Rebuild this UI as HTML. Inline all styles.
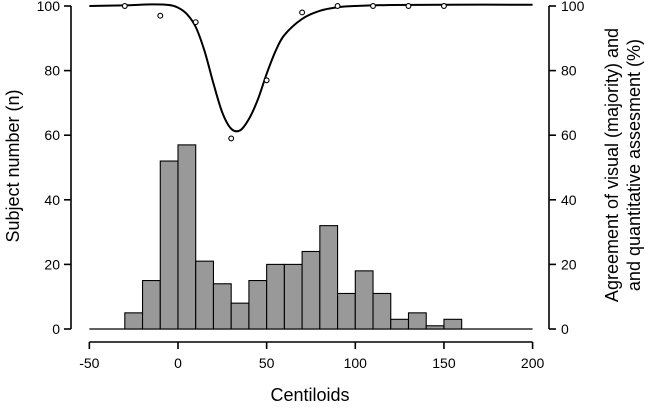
<!DOCTYPE html>
<html><head><meta charset="utf-8"><style>
body{margin:0;background:#fff}
svg{display:block;font-family:"Liberation Sans",Arial,sans-serif}
</style></head><body>
<svg id="c" width="645" height="408" viewBox="0 0 645 408">
<g id="bars"></g>
<g id="curve"></g>
<g id="pts"></g>
<g id="axes"></g>
<text x="19" y="166" font-size="18" text-anchor="middle" transform="rotate(-90 19 166)">Subject number (n)</text>
<text x="618" y="165" font-size="18" text-anchor="middle" transform="rotate(-90 618 165)">Agreement of visual (majority) and</text>
<text x="640" y="165" font-size="18" text-anchor="middle" transform="rotate(-90 640 165)">and quantitative assesment (%)</text>
<text x="310" y="401" font-size="18" text-anchor="middle">Centiloids</text>
</svg>
<script>
const binStarts=[-30,-20,-10,0,10,20,30,40,50,60,70,80,90,100,110,120,130,140,150];
const counts=[5,15,52,57,21,14,8,15,20,20,24,32,11,18,11,3,5,1,3];
const pointX=[-30,-10,10,30,50,70,90,110,130,150];
const pointY=[100,97,95,59,77,98,100,100,100,100];
const curveX=[-50,-30,-15,-5,0,5,10,15,20,25,30,35,40,45,50,55,60,70,80,90,100,120,150,200];
const curveY=[100,100.2,100.5,100.3,99.5,97.5,93.5,86,76,67,62,61.5,65,71,79,86,91,96,98.5,99.6,100,100.3,100.4,100.4];
const xTicks=[-50,0,50,100,150,200];
const yTicks=[0,20,40,60,80,100];
const NS="http://www.w3.org/2000/svg";
const X=v=>178+(v)*1.773, Y=v=>329-v*3.23;
function mk(t,a,p){const e=document.createElementNS(NS,t);for(const k in a)e.setAttribute(k,a[k]);p.appendChild(e);return e;}
const bars=document.getElementById('bars');
mk('line',{x1:X(-50),x2:X(200),y1:Y(0),y2:Y(0),stroke:'#000','stroke-width':1.2},bars);
binStarts.forEach((b,i)=>{
 const r=mk('rect',{x:X(b),y:Y(counts[i]),width:X(b+10)-X(b),height:Y(0)-Y(counts[i]),fill:'#999',stroke:'#000','stroke-width':1.1},bars);
 
 
});
const P=curveX.map((x,i)=>[X(x),Y(curveY[i])]);
let d='M'+P[0][0]+','+P[0][1];
for(let i=0;i<P.length-1;i++){const p0=P[i-1]||P[i],p1=P[i],p2=P[i+1],p3=P[i+2]||p2;
 d+=` C${p1[0]+(p2[0]-p0[0])/6},${p1[1]+(p2[1]-p0[1])/6} ${p2[0]-(p3[0]-p1[0])/6},${p2[1]-(p3[1]-p1[1])/6} ${p2[0]},${p2[1]}`;}
const cp=mk('path',{d:d,fill:'none',stroke:'#000','stroke-width':2},document.getElementById('curve'));


const pts=document.getElementById('pts');
pointX.forEach((x,i)=>{const c=mk('circle',{cx:X(x),cy:Y(pointY[i]),r:2.4,fill:'#fff',stroke:'#000','stroke-width':1.1},pts);
 
 });
const ax=document.getElementById('axes');
mk('line',{x1:71,x2:71,y1:Y(0),y2:Y(100),stroke:'#000','stroke-width':1.6},ax);
mk('line',{x1:549,x2:549,y1:Y(0),y2:Y(100),stroke:'#000','stroke-width':1.6},ax);
mk('line',{x1:X(-50),x2:X(200),y1:342,y2:342,stroke:'#000','stroke-width':1.6},ax);
yTicks.forEach(v=>{
 mk('line',{x1:64,x2:71,y1:Y(v),y2:Y(v),stroke:'#000','stroke-width':1.6},ax);
 const t=mk('text',{x:60,y:Y(v)+5,'font-size':14,'text-anchor':'end'},ax);t.textContent=v;
 
 
 mk('line',{x1:549,x2:556,y1:Y(v),y2:Y(v),stroke:'#000','stroke-width':1.6},ax);
 const t2=mk('text',{x:561,y:Y(v)+5,'font-size':14},ax);t2.textContent=v;
 
 
});
xTicks.forEach(v=>{
 mk('line',{x1:X(v),x2:X(v),y1:342,y2:349,stroke:'#000','stroke-width':1.6},ax);
 const t=mk('text',{x:X(v),y:368,'font-size':14,'text-anchor':'middle'},ax);t.textContent=v;
 
 
});
</script>
</body></html>
